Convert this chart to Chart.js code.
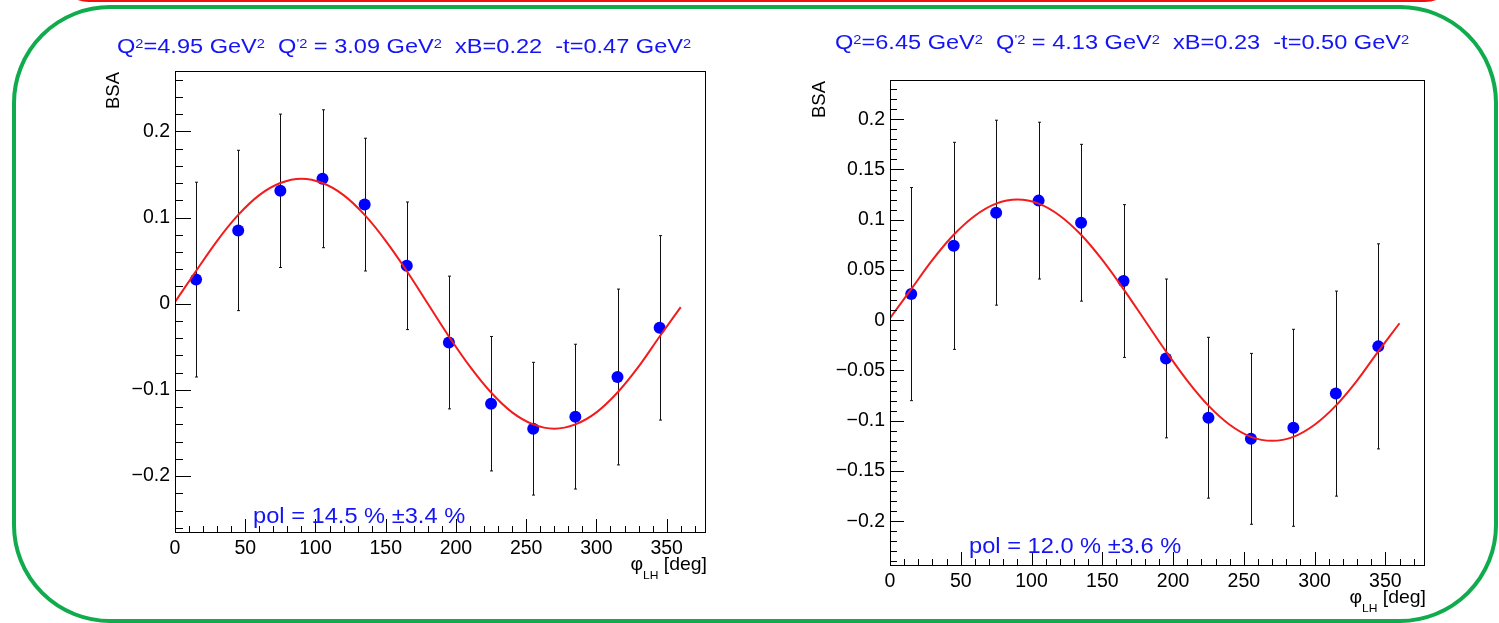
<!DOCTYPE html>
<html>
<head>
<meta charset="utf-8">
<script src="https://cdn.jsdelivr.net/npm/chart.js@4.4.1/dist/chart.umd.min.js"></script>
<style>
  html, body { margin: 0; padding: 0; background: #fff; }
  #page { position: relative; width: 1499px; height: 623px; overflow: hidden; }
  .frame { position: absolute; left: 12px; top: 5px; width: 1486px; height: 618px; box-sizing: border-box;
           border: 4px solid #0fab4c; border-radius: 98px; }
  .redline { position: absolute; left: 57px; top: -62px; width: 1400px; height: 64px; box-sizing: border-box;
             border: 3px solid #f01010; border-radius: 40px; }
  canvas { position: absolute; top: 0; }
</style>
</head>
<body>
<div id="page">
  <div class="redline"></div>
  <div class="frame"></div>
  <canvas id="left" width="750" height="623" style="left:0"></canvas>
  <canvas id="right" width="749" height="623" style="left:750px"></canvas>
</div>
<script>
// phi bins (deg)
const phi = [15, 45, 75, 105, 135, 165, 195, 225, 255, 285, 315, 345];

// left panel: Q2=4.95
const bsaLeft = [0.028, 0.085, 0.131, 0.145, 0.115, 0.044, -0.045, -0.116, -0.145, -0.131, -0.085, -0.028];
const errLeft = [0.113, 0.093, 0.089, 0.080, 0.077, 0.074, 0.077, 0.078, 0.077, 0.084, 0.102, 0.107];

// right panel: Q2=6.45
const bsaRight = [0.026, 0.074, 0.107, 0.119, 0.097, 0.039, -0.038, -0.097, -0.118, -0.107, -0.073, -0.026];
const errRight = [0.106, 0.103, 0.092, 0.078, 0.078, 0.076, 0.079, 0.080, 0.085, 0.098, 0.102, 0.102];

// fit curves
const fitPhi = [0, 15, 30, 45, 60, 75, 90, 105, 120, 135, 150, 165, 180, 195, 210, 225, 240, 255, 270, 285, 300, 315, 330, 345, 360];
const fitLeft = [0.002, 0.038, 0.073, 0.103, 0.126, 0.140, 0.145, 0.140, 0.126, 0.103, 0.073, 0.038, 0.000,
                 -0.038, -0.073, -0.103, -0.126, -0.140, -0.145, -0.140, -0.126, -0.103, -0.073, -0.038, -0.004];
const fitRight = [0.002, 0.031, 0.060, 0.085, 0.104, 0.116, 0.120, 0.116, 0.104, 0.085, 0.060, 0.031, 0.000,
                  -0.031, -0.060, -0.085, -0.104, -0.116, -0.120, -0.116, -0.104, -0.085, -0.060, -0.031, -0.003];

const FONT = '"Liberation Sans", Arial, Helvetica, sans-serif';
Chart.defaults.font.family = FONT;
const BLUE = '#1414f5';

const fmt = v => {
  const r = Math.round(v * 1000) / 1000;
  return r < 0 ? '\u2212' + String(-r) : String(r);
};

// draw text made of pieces: 0 normal, 1 superscript, 2 subscript
function drawRich(ctx, parts, x, y, size, sx, align) {
  const fs = k => (k === 0 ? size : size * 0.62);
  let total = 0;
  parts.forEach(([t, k]) => { ctx.font = fs(k) + 'px ' + FONT; total += ctx.measureText(t).width; });
  ctx.save();
  ctx.translate(x, y);
  ctx.scale(sx, 1);
  let cx = align === 'right' ? -total : 0;
  ctx.textAlign = 'left';
  ctx.textBaseline = 'alphabetic';
  parts.forEach(([t, k]) => {
    ctx.font = fs(k) + 'px ' + FONT;
    const dy = k === 1 ? -size * 0.22 : (k === 2 ? size * 0.5 : 0);
    ctx.fillText(t, cx, dy);
    cx += ctx.measureText(t).width;
  });
  ctx.restore();
}

function rootPlugin(cfg) {
  return {
    id: 'rootStyle',
    beforeDatasetsDraw(chart) {
      const ctx = chart.ctx, xs = chart.scales.x, ys = chart.scales.y;
      ctx.save();
      ctx.strokeStyle = '#111';
      ctx.lineWidth = 1;
      ctx.beginPath();
      phi.forEach((p, i) => {
        const px = Math.round(xs.getPixelForValue(p)) + 0.5;
        const top = ys.getPixelForValue(cfg.y[i] + cfg.err[i]);
        const bot = ys.getPixelForValue(cfg.y[i] - cfg.err[i]);
        ctx.moveTo(px, top); ctx.lineTo(px, bot);
        ctx.moveTo(px - 1.5, top); ctx.lineTo(px + 1.5, top);
        ctx.moveTo(px - 1.5, bot); ctx.lineTo(px + 1.5, bot);
      });
      ctx.stroke();
      ctx.restore();
    },
    afterDraw(chart) {
      const ctx = chart.ctx, a = chart.chartArea, xs = chart.scales.x, ys = chart.scales.y;
      ctx.save();
      ctx.strokeStyle = '#000';
      ctx.lineWidth = 1;
      ctx.strokeRect(a.left + 0.5, a.top + 0.5, a.right - a.left - 1, a.bottom - a.top - 1);

      // inward ticks
      ctx.beginPath();
      for (let v = 0; v <= 370; v += 10) {
        const px = Math.round(xs.getPixelForValue(v)) + 0.5;
        const len = v % 50 === 0 ? cfg.xTick : cfg.xTick / 2;
        ctx.moveTo(px, a.bottom); ctx.lineTo(px, a.bottom - len);
      }
      for (let k = cfg.kMin; k <= cfg.kMax; k++) {
        const py = Math.round(ys.getPixelForValue(k * cfg.minor)) + 0.5;
        const len = k % 5 === 0 ? cfg.yTick : cfg.yTick / 2;
        ctx.moveTo(a.left, py); ctx.lineTo(a.left + len, py);
      }
      ctx.stroke();

      // title and fit result
      ctx.fillStyle = BLUE;
      drawRich(ctx, cfg.title, cfg.titleX, cfg.titleY, 20.5, 1.15, 'left');
      drawRich(ctx, [[cfg.pol, 0]], cfg.polX, cfg.polY, 21.5, 1.1, 'left');

      // axis titles
      ctx.fillStyle = '#000';
      drawRich(ctx, [['\u03c6', 0], ['LH', 2], [' [deg]', 0]], a.right + 1, a.bottom + 37, 18.5, 1.05, 'right');
      ctx.save();
      ctx.translate(a.left - cfg.bsaOff, a.top + 1);
      ctx.rotate(-Math.PI / 2);
      ctx.font = '18.5px ' + FONT;
      ctx.textAlign = 'right';
      ctx.textBaseline = 'middle';
      ctx.fillText('BSA', 0, 0);
      ctx.restore();
      ctx.restore();
    }
  };
}

function makeChart(id, cfg) {
  const tickFont = { size: 19.5, family: FONT };
  return new Chart(document.getElementById(id), {
    type: 'scatter',
    data: {
      datasets: [
        {
          type: 'line',
          data: fitPhi.map((x, i) => ({ x: x, y: cfg.fit[i] })),
          borderColor: '#f21c1c',
          borderWidth: 2,
          pointRadius: 0,
          cubicInterpolationMode: 'monotone',
          order: 0
        },
        {
          data: phi.map((x, i) => ({ x: x, y: cfg.y[i] })),
          backgroundColor: '#0000ff',
          borderWidth: 0,
          pointRadius: 6,
          order: 1
        }
      ]
    },
    options: {
      responsive: false,
      animation: false,
      devicePixelRatio: 1,
      layout: { padding: cfg.pad },
      plugins: { legend: { display: false }, tooltip: { enabled: false } },
      scales: {
        x: {
          type: 'linear', min: 0, max: 378,
          afterFit: s => { s.height = 50; },
          grid: { display: false, drawTicks: false },
          border: { display: false },
          ticks: { stepSize: 50, includeBounds: false, padding: 4, font: tickFont, color: '#000',
                   maxRotation: 0, callback: fmt }
        },
        y: {
          type: 'linear', min: cfg.yMin, max: cfg.yMax,
          afterFit: s => { s.width = 100; },
          grid: { display: false, drawTicks: false },
          border: { display: false },
          ticks: { stepSize: cfg.step, includeBounds: false, padding: 5, font: tickFont, color: '#000',
                   callback: fmt }
        }
      }
    },
    plugins: [rootPlugin(cfg)]
  });
}

makeChart('left', {
  y: bsaLeft, err: errLeft, fit: fitLeft,
  yMin: -0.266, yMax: 0.270, step: 0.1, minor: 0.02, kMin: -13, kMax: 13,
  pad: { left: 75, right: 44, top: 71, bottom: 40 },
  xTick: 14, yTick: 16, bsaOff: 61,
  title: [['Q', 0], ['2', 1], ['=4.95 GeV', 0], ['2', 1], ['  Q', 0], ["'2", 1], [' = 3.09 GeV', 0], ['2', 1],
          ['  xB=0.22  -t=0.47 GeV', 0], ['2', 1]],
  titleX: 117, titleY: 52.5,
  pol: 'pol = 14.5 % \u00b13.4 %', polX: 253, polY: 522.5
});

makeChart('right', {
  y: bsaRight, err: errRight, fit: fitRight,
  yMin: -0.2445, yMax: 0.239, step: 0.05, minor: 0.01, kMin: -24, kMax: 23,
  pad: { left: 40, right: 74, top: 80, bottom: 7 },
  xTick: 14, yTick: 14, bsaOff: 70,
  title: [['Q', 0], ['2', 1], ['=6.45 GeV', 0], ['2', 1], ['  Q', 0], ["'2", 1], [' = 4.13 GeV', 0], ['2', 1],
          ['  xB=0.23  -t=0.50 GeV', 0], ['2', 1]],
  titleX: 85, titleY: 48.5,
  pol: 'pol = 12.0 % \u00b13.6 %', polX: 219, polY: 553
});
</script>
</body>
</html>
